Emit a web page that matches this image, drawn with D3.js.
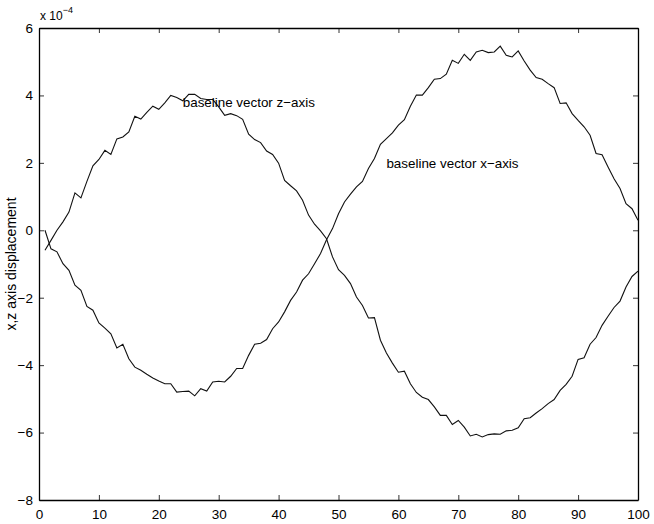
<!DOCTYPE html>
<html>
<head>
<meta charset="utf-8">
<script src="https://cdn.jsdelivr.net/npm/d3@7"></script>
<style>
  body { margin: 0; background: #fff; }
  svg { display: block; font-family: "Liberation Sans", Arial, sans-serif; }
  .tick text { font-size: 13.5px; fill: #000; }
</style>
</head>
<body>
<div id="chart"></div>
<script>
// sample index 1..100
const samples = d3.range(1, 101);

// baseline vector z-axis (units of 1e-4)
const zAxisValues = [
  -0.59, -0.30, 0.00, 0.25, 0.54, 1.11, 0.96, 1.45, 1.91, 2.10,
  2.37, 2.25, 2.71, 2.77, 2.92, 3.38, 3.30, 3.50, 3.68, 3.59,
  3.78, 4.00, 3.94, 3.84, 4.03, 4.03, 3.91, 3.88, 3.88, 3.66,
  3.41, 3.46, 3.40, 3.29, 2.85, 2.69, 2.60, 2.35, 2.25, 1.99,
  1.48, 1.32, 1.17, 0.89, 0.45, 0.18, -0.02, -0.25, -0.79, -1.17,
  -1.34, -1.58, -1.98, -2.23, -2.60, -2.59, -3.26, -3.64, -3.94, -4.21,
  -4.18, -4.55, -4.81, -4.95, -5.02, -5.24, -5.49, -5.49, -5.76, -5.64,
  -5.84, -6.10, -6.05, -6.13, -6.06, -6.04, -6.05, -5.95, -5.93, -5.86,
  -5.59, -5.56, -5.42, -5.29, -5.14, -5.02, -4.75, -4.57, -4.33, -3.83,
  -3.78, -3.38, -3.18, -2.82, -2.55, -2.29, -2.10, -1.68, -1.37, -1.21
];

// baseline vector x-axis (units of 1e-4)
const xAxisValues = [
  0.00, -0.55, -0.64, -0.99, -1.19, -1.63, -1.78, -2.26, -2.37, -2.75,
  -2.90, -3.07, -3.49, -3.38, -3.81, -4.06, -4.15, -4.27, -4.38, -4.47,
  -4.55, -4.55, -4.80, -4.78, -4.77, -4.91, -4.70, -4.77, -4.50, -4.48,
  -4.50, -4.33, -4.10, -4.10, -3.71, -3.38, -3.35, -3.24, -2.92, -2.72,
  -2.42, -2.08, -1.83, -1.48, -1.29, -0.99, -0.69, -0.28, 0.05, 0.49,
  0.84, 1.07, 1.29, 1.45, 1.83, 2.13, 2.55, 2.72, 2.89, 3.12,
  3.28, 3.68, 4.01, 4.01, 4.23, 4.48, 4.50, 4.63, 5.04, 4.95,
  5.22, 5.04, 5.29, 5.34, 5.27, 5.29, 5.46, 5.19, 5.14, 5.32,
  5.02, 4.75, 4.53, 4.48, 4.35, 4.23, 3.76, 3.78, 3.46, 3.26,
  3.07, 2.82, 2.28, 2.24, 1.88, 1.53, 1.24, 0.79, 0.64, 0.30
];

const xTicks = [0, 10, 20, 30, 40, 50, 60, 70, 80, 90, 100];
const yTicks = [-8, -6, -4, -2, 0, 2, 4, 6];

const labels = [
  { text: 'baseline vector z\u2212axis', x: 24, y: 3.8 },
  { text: 'baseline vector x\u2212axis', x: 58, y: 2.0 }
];

const width = 654, height = 524;
const margin = { top: 28, right: 16, bottom: 24, left: 39 };
const w = width - margin.left - margin.right;
const h = height - margin.top - margin.bottom;

const svg = d3.select('#chart').append('svg')
  .attr('width', width)
  .attr('height', height);

const plot = svg.append('g')
  .attr('transform', `translate(${margin.left},${margin.top})`);

const xScale = d3.scaleLinear().domain([0, 100]).range([0, w]);
const yScale = d3.scaleLinear().domain([-8, 6]).range([h, 0]);

const fmt = d => (d < 0 ? '\u2212' + Math.abs(d) : String(d));

// axes, ticks pointing inward like matlab
const axBottom = plot.append('g')
  .attr('transform', `translate(0,${h})`)
  .call(d3.axisBottom(xScale).tickValues(xTicks).tickSizeInner(-5).tickSizeOuter(0).tickPadding(9).tickFormat(fmt));
const axTop = plot.append('g')
  .call(d3.axisTop(xScale).tickValues(xTicks).tickSizeInner(-5).tickSizeOuter(0).tickFormat(''));
const axLeft = plot.append('g')
  .call(d3.axisLeft(yScale).tickValues(yTicks).tickSizeInner(-5).tickSizeOuter(0).tickPadding(6).tickFormat(fmt));
const axRight = plot.append('g')
  .attr('transform', `translate(${w},0)`)
  .call(d3.axisRight(yScale).tickValues(yTicks).tickSizeInner(-5).tickSizeOuter(0).tickFormat(''));

[axBottom, axTop, axLeft, axRight].forEach(g => {
  g.select('.domain').attr('stroke', '#000').attr('stroke-width', 1.3);
  g.selectAll('.tick line').attr('stroke', '#000').attr('stroke-width', 0.8);
});

// the lines
const line = d3.line()
  .x((d, i) => xScale(samples[i]))
  .y(d => yScale(d));

[zAxisValues, xAxisValues].forEach(vals => {
  plot.append('path')
    .datum(vals)
    .attr('d', line)
    .attr('fill', 'none')
    .attr('stroke', '#111')
    .attr('stroke-width', 1.1);
});

// text annotations
plot.selectAll('.note')
  .data(labels)
  .enter().append('text')
  .attr('class', 'note')
  .attr('x', d => xScale(d.x))
  .attr('y', d => yScale(d.y))
  .attr('dy', '0.35em')
  .attr('font-size', 13.4)
  .text(d => d.text);

// exponent label
const expo = svg.append('text')
  .attr('x', margin.left + 1)
  .attr('y', margin.top - 8)
  .attr('font-size', 12);
expo.append('tspan').text('x 10');
expo.append('tspan').attr('dy', -7).attr('font-size', 9).text('\u22124');

// y label
svg.append('text')
  .attr('transform', `translate(16,${margin.top + h / 2}) rotate(-90)`)
  .attr('text-anchor', 'middle')
  .attr('font-size', 14)
  .text('x,z axis displacement');
</script>
</body>
</html>
